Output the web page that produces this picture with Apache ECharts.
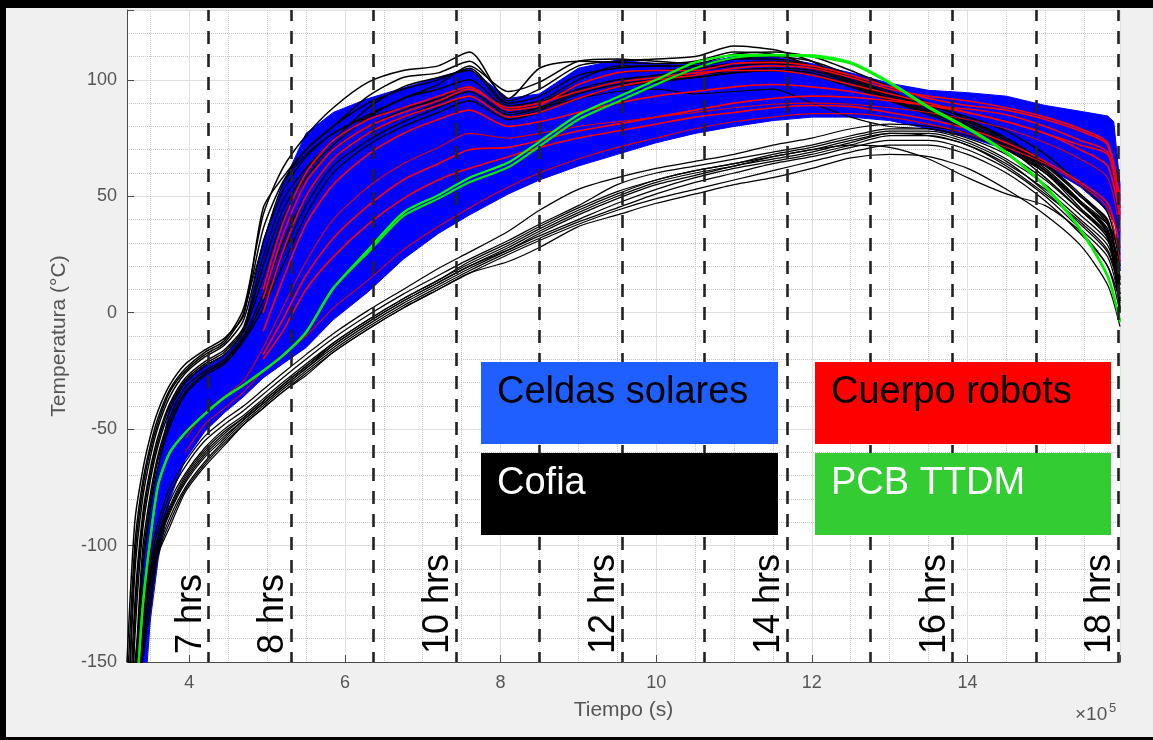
<!DOCTYPE html>
<html>
<head>
<meta charset="utf-8">
<script src="https://cdn.jsdelivr.net/npm/echarts@6/dist/echarts.min.js"></script>
<style>
  html, body { margin: 0; padding: 0; background: #f0f0f0; }
  #chart { width: 1153px; height: 740px; }
</style>
</head>
<body>
<div id="chart"></div>
<script>
// Simulation time samples, in units of 1e5 s
const timeGrid = [3.2, 3.3, 3.4, 3.5, 3.6, 3.75, 3.95, 4.2, 4.45, 4.7, 4.95, 5.2, 5.5, 5.85, 6.3, 6.75, 7.2, 7.6, 8.1, 8.5, 9.0, 9.5, 10.0, 10.5, 11.0, 11.5, 12.0, 12.5, 13.0, 13.5, 14.0, 14.5, 15.0, 15.45, 15.8, 15.96];

// Axis tick labels
const xTickValues = [4, 6, 8, 10, 12, 14];
const yTickValues = [-150, -100, -50, 0, 50, 100];

// Hour markers (x in 1e5 s) and their captions
const hourMarks = [4.25, 5.31, 6.37, 7.43, 8.50, 9.56, 10.62, 11.68, 12.75, 13.81, 14.88, 15.94];
const hourLabels = ['7 hrs', '8 hrs', '', '10 hrs', '', '12 hrs', '', '14 hrs', '', '16 hrs', '', '18 hrs'];

// Solar cells (Celdas solares): envelope of the dense bundle of traces
const solarTopX = [3.37, 3.4, 3.5, 3.6, 3.75, 3.95, 4.2, 4.45, 4.7, 4.95, 5.2, 5.5, 5.85, 6.3, 6.75, 7.2, 7.6, 8.1, 8.5, 9.0, 9.5, 10.0, 10.5, 11.0, 11.5, 12.0, 12.5, 13.0, 13.5, 14.0, 14.5, 15.0, 15.45, 15.8, 15.88, 15.96];
const solarTopT = [-150, -112, -84, -66, -40, -29, -22.5, -18.5, -9, 31, 55, 77, 86, 92, 96.5, 101, 105, 92, 94, 105, 108.5, 107, 106.5, 110, 110, 107, 103, 98.5, 95.5, 94.5, 93, 89, 86.5, 84.5, 82, 55];
const solarBotX = [3.46, 3.5, 3.6, 3.75, 3.95, 4.2, 4.45, 4.7, 4.95, 5.2, 5.5, 5.85, 6.3, 6.75, 7.2, 7.6, 8.1, 8.5, 9.0, 9.5, 10.0, 10.5, 11.0, 11.5, 12.0, 12.5, 13.0, 13.5, 14.0, 14.5, 15.0, 15.45, 15.8, 15.9, 15.96];
const solarBotT = [-150, -132, -106, -80, -63, -51, -43, -36, -28, -22, -15, -3, 9, 23, 34, 42, 51, 57, 63, 68, 73, 77, 80, 82.5, 84, 84, 82.5, 79, 75.5, 70, 63, 54, 44, 38, 18];

// Fairing (Cofia) traces, early-heating group
const cofiaH1 = [-165, -100, -73, -57, -45, -33, -24, -17, -12, 2, 42, 62, 76, 88, 99, 104, 106, 112, 91, 96, 106, 108, 109, 110, 114.5, 113, 108, 99, 92, 86, 80, 72, 60, 47, 36, 8];
const cofiaH2 = [-180, -112, -80, -62, -49, -36, -26, -19, -14, -3, 30, 52, 67, 77, 85, 92, 98, 106, 95, 99, 108, 109, 108, 107, 111, 112, 110, 104, 97, 90, 83, 75, 64, 50, 40, 15];
const cofiaH3 = [-200, -125, -87, -67, -53, -39, -28, -21, -16, -6, 24, 48, 62, 74, 88, 97, 101, 104, 89, 91, 100, 106, 106, 106, 109, 110, 108, 102, 95, 89, 84, 78, 68, 55, 43, 20];
const cofiaH4 = [-215, -140, -94, -72, -57, -42, -30, -23, -18, -8, 15, 40, 58, 70, 80, 87, 92, 97, 87, 90, 96, 100, 102, 104, 106, 107, 105, 100, 94, 88, 82, 74, 63, 50, 38, 12];
const cofiaH5 = [-150, -90, -68, -53, -42, -31, -22, -16, -11, -1, 45, 58, 70, 80, 93, 101, 103, 108, 92, 105, 108, 107.5, 107, 108, 112, 111, 106, 98, 91, 86, 80, 71, 58, 44, 32, 5];
const cofiaH6 = [-235, -160, -102, -78, -61, -45, -32, -25, -20, -10, 8, 30, 50, 66, 77, 84, 90, 95, 85, 88, 95, 99, 101, 102, 104, 105, 104, 99, 93, 87, 81, 73, 62, 48, 35, 2];
const cofiaH7 = [-260, -185, -112, -84, -66, -49, -35, -27, -22, -12, 2, 20, 42, 60, 72, 80, 86, 91, 83, 86, 92, 97, 99, 101, 103, 104, 102, 97, 91, 85, 79, 70, 60, 45, 33, 0];
const cofiaH8 = [-190, -106, -76, -59, -47, -34, -25, -18, -13, 0, 36, 56, 70, 80, 90, 96, 100, 105, 90, 93, 102, 105, 106, 106, 109, 109, 106, 100, 93, 87, 81, 73, 61, 47, 35, 6];
const cofiaH9 = [-225, -132, -90, -69, -55, -40, -29, -22, -17, -7, 20, 44, 60, 72, 84, 92, 96, 100, 88, 90, 98, 103, 104, 105, 107, 108, 106, 101, 94, 88, 82, 75, 64, 51, 39, 14];
const cofiaH10 = [-245, -170, -107, -81, -63, -47, -34, -26, -21, -11, 5, 25, 46, 63, 74, 82, 88, 93, 84, 87, 94, 98, 100, 101, 103, 104, 103, 98, 92, 86, 80, 72, 61, 47, 34, 1];

// Fairing (Cofia) traces, slow-heating group
const cofiaL1 = [-185, -150, -122, -103, -90, -75, -64, -53, -46, -40, -33, -26, -18, -9, 1, 10, 19, 26, 35, 44, 53, 58, 62, 65, 68, 72, 75, 79, 81, 80, 77, 70, 60, 47, 38, 28];
const cofiaL2 = [-190, -154, -126, -107, -93, -78, -66, -55, -48, -42, -35, -28, -20, -11, -1, 8, 16, 23, 31, 38, 46, 55, 60, 63, 66, 69, 72, 76, 79, 79, 75, 68, 57, 44, 34, 22];
const cofiaL3 = [-195, -158, -130, -110, -96, -81, -69, -58, -50, -44, -37, -30, -22, -13, -3, 6, 14, 21, 29, 36, 44, 51, 57, 61, 64, 68, 71, 75, 78, 78, 74, 66, 55, 42, 31, 18];
const cofiaL4 = [-200, -162, -134, -114, -98, -84, -71, -60, -52, -45, -38, -31, -23, -14, -4, 5, 13, 20, 27, 33, 40, 47, 53, 58, 62, 65, 68, 72, 76, 76, 72, 64, 53, 40, 29, 12];
const cofiaL5 = [-205, -166, -138, -117, -100, -86, -73, -62, -54, -46, -39, -32, -24, -15, -5, 4, 12, 19, 27, 34, 42, 49, 55, 59, 63, 66, 69, 73, 77, 77, 73, 65, 52, 38, 26, 8];
const cofiaL6 = [-210, -170, -142, -121, -102, -88, -75, -64, -55, -47, -40, -33, -25, -16, -6, 3, 11, 18, 26, 32, 39, 45, 51, 56, 60, 64, 67, 71, 74, 74, 70, 62, 50, 36, 24, 4];
const cofiaL7 = [-215, -174, -146, -124, -103, -90, -76, -65, -56, -48, -41, -34, -26, -17, -7, 2, 10, 17, 25, 31, 38, 44, 49, 53, 57, 61, 65, 69, 72, 72, 68, 60, 48, 34, 20, 0];
const cofiaL8 = [-220, -178, -150, -127, -104, -92, -77, -66, -57, -48, -41, -34, -27, -17, -7, 2, 10, 17, 22, 28, 37, 42, 47, 51, 55, 58, 62, 66.5, 68, 67, 62, 53, 42, 29, 12, -6];
const cofiaL9 = [-198, -160, -132, -112, -97, -83, -70, -59, -51, -45, -38, -31, -23, -13, -3, 6, 14, 22, 30, 37, 45, 52, 57, 61, 64, 67, 70, 72, 71, 66, 58, 51, 46, 35, 20, 5];
const cofiaL10 = [-203, -164, -136, -116, -99, -85, -72, -61, -53, -46, -39, -32, -24, -14, -4, 5, 13, 20, 28, 35, 43, 50, 56, 60, 63, 67, 70, 74, 77, 76, 72, 63, 51, 39, 27, 10];
// Fairing trace that crosses over the solar-cell bundle
const cofiaT1 = [null, null, null, null, null, null, null, null, null, 0, 30, 55, 68, 77, 84, 88, 91, 95, 86, 88, 92, 95, 96, 94, 95, 96, 90, 84, 80, 79, 76, 70, 61, 48, 38, 25];

// Robot body (Cuerpo robots) traces
const robotR1 = [null, null, null, null, null, null, null, null, null, null, 10, 38, 60, 74, 83, 88, 93, 97, 87, 89, 98, 103, 104, 104, 107, 107.5, 106, 102, 97, 92, 89, 87, 83, 78, 72, 45];
const robotR2 = [null, null, null, null, null, null, null, null, null, null, 0, 26, 50, 66, 77, 84, 89, 93, 84, 86, 92, 97, 100, 102, 105, 106, 105, 101, 96, 93, 91, 88, 84, 79, 73, 48];
const robotR3 = [null, null, null, null, null, null, -54, -43, -36, -29, -15, 2, 22, 40, 54, 64, 71, 77, 75, 77, 80, 82, 84, 86, 88, 89.5, 90, 89.5, 88, 86, 83, 79, 73, 66, 58, 35];
const robotR4 = [null, null, null, null, null, null, null, null, null, null, -20, -8, 10, 24, 38, 49, 57, 62, 67, 71, 75, 78, 81, 84, 86, 88, 89, 88.5, 86, 83, 79, 73, 65, 56, 47, 28];
const robotR5 = [null, null, null, null, null, null, -60, -48, -41, -34, -25, -18, -10, 2, 14, 27, 37, 45, 54, 60, 66, 71, 75, 79, 82, 84, 85.5, 85.5, 84, 81, 77, 71, 64, 55, 45, 22];
const robotR6 = [null, null, null, null, null, null, null, null, null, null, 6, 33, 56, 70, 80, 86, 91, 96, 88, 90, 95, 99, 101, 103, 104, 104, 102, 98, 94, 90, 86, 82, 77, 72, 68, 50];
const robotR7 = [null, null, null, null, null, null, null, null, null, null, -8, 14, 38, 55, 68, 77, 83, 87, 80, 82, 86, 90, 93, 95, 97, 98, 97, 95, 92, 89, 86, 82, 77, 70, 63, 40];
const robotR8 = [null, null, null, null, null, null, null, null, null, null, -18, -3, 16, 32, 46, 57, 64, 70, 71, 74, 78, 81, 84, 87, 90, 92, 93, 92.5, 91, 89, 87.5, 85, 80, 74, 69, 42];

// PCB TTDM traces
const pcbA = [-215, -175, -127, -97, -74, -60, -51.5, -43.5, -36.5, -31, -25, -18.5, -8.5, 10.5, 27, 43, 50.5, 58, 64.5, 73.5, 85, 92.5, 100, 107.5, 110.5, 110.7, 110.5, 107.5, 99, 88.5, 79.5, 69, 54.5, 36, 16, -3.5];
const pcbB = [-215, -175, -127, -97, -74, -60, -51.5, -43.5, -36.5, -31, -25, -18.5, -8.5, 10.5, 26, 41.5, 49, 56, 62.5, 71.5, 83, 90.5, 98, 105, 109.5, 110.5, 110, 107, 98.5, 88, 79, 68.5, 54, 35.5, 15.5, -4];

const FONT = "'Liberation Sans', Arial, Helvetica, sans-serif";
const AXIS_COLOR = '#4a4a4a';
const TEXT_COLOR = '#555555';

function trace(values, color, width) {
  return {
    type: 'line',
    data: values.map((v, i) => [timeGrid[i], v]),
    symbol: 'none',
    showSymbol: false,
    smooth: 0.25,
    clip: true,
    silent: true,
    animation: false,
    emphasis: { disabled: true },
    lineStyle: { color: color, width: width }
  };
}

const series = [];

// Cofia traces sit underneath the solar-cell bundle
[cofiaH1, cofiaH2, cofiaH3, cofiaH4, cofiaH5, cofiaH6, cofiaH7, cofiaH8, cofiaH9, cofiaH10]
  .forEach(v => series.push(trace(v, '#000000', 1.5)));
[cofiaL1, cofiaL2, cofiaL3, cofiaL4, cofiaL5, cofiaL6, cofiaL7, cofiaL8, cofiaL9, cofiaL10]
  .forEach(v => series.push(trace(v, '#000000', 1.25)));

// Solar-cell bundle, drawn as the region between its upper and lower traces
series.push({
  type: 'custom',
  silent: true,
  animation: false,
  data: [[solarTopX[0], solarTopT[0]]],
  renderItem: function (params, api) {
    const pts = [];
    for (let i = 0; i < solarTopX.length; i++) pts.push(api.coord([solarTopX[i], solarTopT[i]]));
    for (let i = solarBotX.length - 1; i >= 0; i--) pts.push(api.coord([solarBotX[i], solarBotT[i]]));
    return {
      type: 'polygon',
      shape: { points: pts },
      style: { fill: '#0000ff', stroke: '#0000ff', lineWidth: 1 }
    };
  }
});

series.push(trace(cofiaT1, '#000000', 1.1));

[robotR1, robotR2, robotR4, robotR6, robotR7, robotR8]
  .forEach(v => series.push(trace(v, '#ff0000', 1.6)));
[robotR3, robotR5]
  .forEach(v => series.push(trace(v, '#e00000', 1.1)));

series.push(trace(pcbA, '#00ff00', 2.2));
series.push(trace(pcbB, '#00ee00', 2.2));

// Dashed hour markers with rotated captions
series.push({
  type: 'line',
  data: [],
  silent: true,
  animation: false,
  z: 8,
  markLine: {
    silent: true,
    animation: false,
    symbol: ['none', 'none'],
    lineStyle: { color: '#222222', width: 2.6, type: [13, 10], dashOffset: 3 },
    label: {
      show: true,
      position: 'insideStartTop',
      distance: [8, 0],
      fontSize: 36,
      fontFamily: FONT,
      color: '#000000'
    },
    emphasis: { disabled: true },
    data: hourMarks.map((x, i) => ({
      xAxis: x,
      label: { show: hourLabels[i] !== '', formatter: hourLabels[i] }
    }))
  }
});

const legendBoxes = [
  { x: 481, y: 362, w: 297, h: 82, fill: '#1f5fff', text: 'Celdas solares', color: '#000000' },
  { x: 815, y: 362, w: 296, h: 82, fill: '#ff0000', text: 'Cuerpo robots', color: '#000000' },
  { x: 481, y: 453, w: 297, h: 82, fill: '#000000', text: 'Cofia', color: '#ffffff' },
  { x: 815, y: 453, w: 296, h: 82, fill: '#33cc33', text: 'PCB TTDM', color: '#ffffff' }
];

const graphic = [
  // figure frame
  { type: 'rect', shape: { x: 0, y: 0, width: 1153, height: 8 }, style: { fill: '#000' }, z: 100, silent: true },
  { type: 'rect', shape: { x: 0, y: 0, width: 6, height: 740 }, style: { fill: '#000' }, z: 100, silent: true },
  { type: 'rect', shape: { x: 0, y: 737, width: 1153, height: 3 }, style: { fill: '#000' }, z: 100, silent: true },
  // exponent of the time axis
  { type: 'text', x: 1075, y: 715, z: 100, silent: true,
    style: { text: '×10', fontSize: 19, fontFamily: FONT, fill: TEXT_COLOR, verticalAlign: 'middle', align: 'left' } },
  { type: 'text', x: 1109, y: 708, z: 100, silent: true,
    style: { text: '5', fontSize: 13, fontFamily: FONT, fill: TEXT_COLOR, verticalAlign: 'middle', align: 'left' } }
];
legendBoxes.forEach(b => {
  graphic.push({ type: 'rect', shape: { x: b.x, y: b.y, width: b.w, height: b.h }, style: { fill: b.fill }, z: 100, silent: true });
  graphic.push({ type: 'text', x: b.x + 16, y: b.y + 30.5, z: 101, silent: true,
    style: { text: b.text, fontSize: 38, fontFamily: FONT, fill: b.color, verticalAlign: 'middle', align: 'left' } });
});

const axisCommon = {
  type: 'value',
  axisLine: { show: true, onZero: false, lineStyle: { color: AXIS_COLOR, width: 1 } },
  axisTick: { show: true, inside: true, length: 7, lineStyle: { color: AXIS_COLOR, width: 1 } },
  splitLine: { show: true, lineStyle: { color: '#e0e0e0', width: 1, type: 'solid' } },
  minorSplitLine: { show: true, lineStyle: { color: '#c6c6c6', width: 1, type: 'dotted' } },
  nameLocation: 'middle',
  nameTextStyle: { fontSize: 21, fontFamily: FONT, color: TEXT_COLOR }
};

const option = {
  animation: false,
  backgroundColor: '#f0f0f0',
  textStyle: { fontFamily: FONT },
  grid: {
    left: 127, top: 10, width: 993, height: 652,
    show: true, backgroundColor: '#ffffff', borderWidth: 0,
    containLabel: false, outerBoundsMode: 'none'
  },
  xAxis: Object.assign({}, axisCommon, {
    min: 3.2, max: 15.96, splitNumber: 6, minInterval: 2, maxInterval: 2,
    minorTick: { show: false, splitNumber: 4 },
    axisLabel: {
      show: true, margin: 12, fontSize: 18, fontFamily: FONT, color: TEXT_COLOR,
      formatter: v => (xTickValues.some(t => Math.abs(t - v) < 1e-6) ? String(Math.round(v)) : '')
    },
    name: 'Tiempo (s)', nameGap: 38
  }),
  yAxis: Object.assign({}, axisCommon, {
    min: -150, max: 130, interval: 50,
    minorTick: { show: false, splitNumber: 5 },
    axisLabel: {
      show: true, margin: 10, fontSize: 18, fontFamily: FONT, color: TEXT_COLOR,
      formatter: v => (yTickValues.some(t => Math.abs(t - v) < 1e-6) ? String(Math.round(v)) : '')
    },
    name: 'Temperatura (°C)', nameGap: 57
  }),
  graphic: graphic,
  series: series
};

const chart = echarts.init(document.getElementById('chart'), null, { renderer: 'canvas' });
chart.setOption(option);
</script>
</body>
</html>
